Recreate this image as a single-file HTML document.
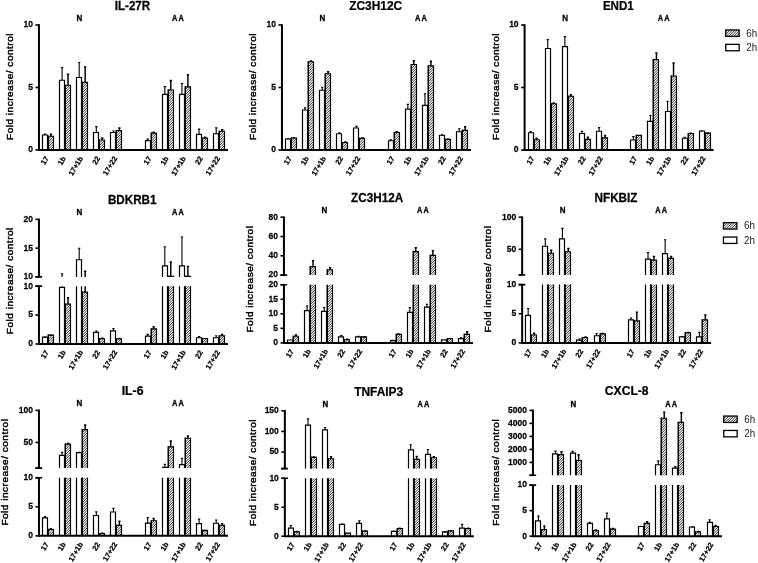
<!DOCTYPE html>
<html><head><meta charset="utf-8"><title>Fold increase charts</title>
<style>
html,body{margin:0;padding:0;background:#fff;}
body{width:758px;height:563px;overflow:hidden;font-family:"Liberation Sans",sans-serif;}
svg{display:block;font-family:"Liberation Sans",sans-serif;will-change:transform;filter:grayscale(1);}
.t{font-weight:bold;font-size:12.1px;fill:#000;stroke:#000;stroke-width:0.25px;}
.n{font-weight:bold;font-size:8.4px;fill:#000;stroke:#000;stroke-width:0.3px;}
.yt{font-weight:bold;font-size:9.8px;fill:#000;stroke:#000;stroke-width:0.25px;}
.xl{font-weight:bold;font-size:7.35px;fill:#000;stroke:#000;stroke-width:0.25px;}
.yl{font-size:9.3px;fill:#000;stroke:#000;stroke-width:0.42px;letter-spacing:0.47px;}
.lg{font-size:10.5px;fill:#222;}
.ax{fill:none;stroke:#000;stroke-width:2;}
.tk{fill:none;stroke:#000;stroke-width:1.6;}
.bw{fill:none;stroke:#000;stroke-width:1.2;}
.bl{fill:none;stroke:#000;stroke-width:1.5;}
.bh{fill:none;stroke:#000;stroke-width:1.15;}
.e{fill:none;stroke:#000;stroke-width:1.1;}
.eh{fill:none;stroke:#000;stroke-width:1.45;}
</style></head><body>
<svg width="758" height="563" viewBox="0 0 758 563">
<defs>
<pattern id="h" width="5" height="5" patternUnits="userSpaceOnUse"><rect width="5" height="5" fill="#f4f4f4"/><path d="M-2.00,-0.5L-0.5,-2.00M0.50,-0.5L-0.5,0.50M3.00,-0.5L-0.5,3.00M5.50,-0.5L-0.5,5.50M8.00,-0.5L-0.5,8.00M10.50,-0.5L-0.5,10.50" stroke="#2a2a2a" stroke-width="0.9"/></pattern>
</defs>
<rect width="758" height="563" fill="#fff"/>
<g>
<text class="yl" transform="translate(13.2,86.5) rotate(-90) scale(1.08,1)" text-anchor="middle">Fold increase/ control</text>
<text class="t" transform="translate(132.45,9.8) scale(0.96,1)" text-anchor="middle">IL-27R</text>
<text class="n" transform="translate(79.4,20.9) scale(0.95,1)" text-anchor="middle">N</text>
<text class="n" transform="translate(178.55,20.9) scale(0.88,1)" text-anchor="middle" style="letter-spacing:1.3px">AA</text>
<rect x="42.5" y="135" width="5" height="15" fill="#fff"/>
<path d="M42.5,150V135H47.5V150" class="bw"/>
<path d="M44.95,135V133.75M43.8,134.15H46.1" class="e"/>
<rect x="48.05" y="136.25" width="5.45" height="13.75" fill="url(#h)"/>
<path d="M48.25,150V135.65" class="bl"/>
<path d="M48.05,136.25H53.5V150" class="bh"/>
<path d="M50.9,136.25V133.75M49.75,134.15H52.05" class="eh"/>
<text class="xl" transform="translate(49,158.3) rotate(-59)" text-anchor="end">17</text>
<rect x="59.5" y="80.25" width="5" height="69.75" fill="#fff"/>
<path d="M59.5,150V80.25H64.5V150" class="bw"/>
<path d="M62.08,80.25V67.25M60.93,67.65H63.23" class="e"/>
<rect x="65.05" y="85.25" width="5.45" height="64.75" fill="url(#h)"/>
<path d="M65.25,150V84.65" class="bl"/>
<path d="M65.05,85.25H70.5V150" class="bh"/>
<path d="M68.03,85.25V73.75M66.88,74.15H69.18" class="eh"/>
<text class="xl" transform="translate(66.13,158.3) rotate(-59)" text-anchor="end">1b</text>
<rect x="76.5" y="77.5" width="5" height="72.5" fill="#fff"/>
<path d="M76.5,150V77.5H81.5V150" class="bw"/>
<path d="M79.2,77.5V62.12M78.05,62.52H80.35" class="e"/>
<rect x="82.05" y="82.38" width="5.45" height="67.62" fill="url(#h)"/>
<path d="M82.25,150V81.78" class="bl"/>
<path d="M82.05,82.38H87.5V150" class="bh"/>
<path d="M85.15,82.38V66.5M84,66.9H86.3" class="eh"/>
<text class="xl" transform="translate(83.25,158.3) rotate(-59)" text-anchor="end">17+1b</text>
<rect x="93.5" y="132.5" width="5" height="17.5" fill="#fff"/>
<path d="M93.5,150V132.5H98.5V150" class="bw"/>
<path d="M96.33,132.5V126.25M95.17,126.65H97.48" class="e"/>
<rect x="99.05" y="140" width="5.45" height="10" fill="url(#h)"/>
<path d="M99.25,150V139.4" class="bl"/>
<path d="M99.05,140H104.5V150" class="bh"/>
<path d="M102.28,140V137.5M101.12,137.9H103.43" class="eh"/>
<text class="xl" transform="translate(100.38,158.3) rotate(-59)" text-anchor="end">22</text>
<rect x="110.5" y="132.5" width="5" height="17.5" fill="#fff"/>
<path d="M110.5,150V132.5H115.5V150" class="bw"/>
<path d="M113.45,132.5V130.62M112.3,131.03H114.6" class="e"/>
<rect x="116.05" y="130.62" width="5.45" height="19.38" fill="url(#h)"/>
<path d="M116.25,150V130.03" class="bl"/>
<path d="M116.05,130.62H121.5V150" class="bh"/>
<path d="M119.4,130.62V127.5M118.25,127.9H120.55" class="eh"/>
<text class="xl" transform="translate(117.5,158.3) rotate(-59)" text-anchor="end">17+22</text>
<rect x="145.5" y="140.62" width="5" height="9.38" fill="#fff"/>
<path d="M145.5,150V140.62H150.5V150" class="bw"/>
<path d="M147.7,140.62V138.75M146.55,139.15H148.85" class="e"/>
<rect x="151.05" y="133.12" width="5.45" height="16.88" fill="url(#h)"/>
<path d="M151.25,150V132.53" class="bl"/>
<path d="M151.05,133.12H156.5V150" class="bh"/>
<path d="M153.65,133.12V131.88M152.5,132.28H154.8" class="eh"/>
<text class="xl" transform="translate(151.75,158.3) rotate(-59)" text-anchor="end">17</text>
<rect x="162.5" y="94.38" width="5" height="55.62" fill="#fff"/>
<path d="M162.5,150V94.38H167.5V150" class="bw"/>
<path d="M164.83,94.38V86.25M163.68,86.65H165.98" class="e"/>
<rect x="168.05" y="90" width="5.45" height="60" fill="url(#h)"/>
<path d="M168.25,150V89.4" class="bl"/>
<path d="M168.05,90H173.5V150" class="bh"/>
<path d="M170.78,90V80M169.62,80.4H171.93" class="eh"/>
<text class="xl" transform="translate(168.88,158.3) rotate(-59)" text-anchor="end">1b</text>
<rect x="179.5" y="94.38" width="5" height="55.62" fill="#fff"/>
<path d="M179.5,150V94.38H184.5V150" class="bw"/>
<path d="M181.95,94.38V83.13M180.8,83.53H183.1" class="e"/>
<rect x="185.05" y="86.88" width="5.45" height="63.12" fill="url(#h)"/>
<path d="M185.25,150V86.28" class="bl"/>
<path d="M185.05,86.88H190.5V150" class="bh"/>
<path d="M187.9,86.88V74.38M186.75,74.78H189.05" class="eh"/>
<text class="xl" transform="translate(186,158.3) rotate(-59)" text-anchor="end">17+1b</text>
<rect x="196.5" y="134.38" width="5" height="15.62" fill="#fff"/>
<path d="M196.5,150V134.38H201.5V150" class="bw"/>
<path d="M199.08,134.38V128.75M197.93,129.15H200.23" class="e"/>
<rect x="202.05" y="138.12" width="5.45" height="11.88" fill="url(#h)"/>
<path d="M202.25,150V137.53" class="bl"/>
<path d="M202.05,138.12H207.5V150" class="bh"/>
<path d="M205.03,138.12V136.88M203.88,137.28H206.18" class="eh"/>
<text class="xl" transform="translate(203.12,158.3) rotate(-59)" text-anchor="end">22</text>
<rect x="213.5" y="133.75" width="5" height="16.25" fill="#fff"/>
<path d="M213.5,150V133.75H218.5V150" class="bw"/>
<path d="M216.2,133.75V127.5M215.05,127.9H217.35" class="e"/>
<rect x="219.05" y="131.25" width="5.45" height="18.75" fill="url(#h)"/>
<path d="M219.25,150V130.65" class="bl"/>
<path d="M219.05,131.25H224.5V150" class="bh"/>
<path d="M222.15,131.25V129.38M221,129.78H223.3" class="eh"/>
<text class="xl" transform="translate(220.25,158.3) rotate(-59)" text-anchor="end">17+22</text>
<path d="M38.15,150H227.95" class="ax"/>
<path d="M38.95,150.8V24.2" class="ax"/>
<path d="M35.45,150H38.95" class="tk"/>
<text class="yt" transform="translate(32.95,152.35) scale(0.87,1)" text-anchor="end">0</text>
<path d="M35.45,87.5H38.95" class="tk"/>
<text class="yt" transform="translate(32.95,89.85) scale(0.87,1)" text-anchor="end">5</text>
<path d="M35.45,25H38.95" class="tk"/>
<text class="yt" transform="translate(32.95,27.35) scale(0.87,1)" text-anchor="end">10</text>
</g>
<g>
<text class="yl" transform="translate(256.3,86.5) rotate(-90) scale(1.08,1)" text-anchor="middle">Fold increase/ control</text>
<text class="t" transform="translate(375.7,9.7) scale(0.984,1)" text-anchor="middle">ZC3H12C</text>
<text class="n" transform="translate(322.4,20.9) scale(0.95,1)" text-anchor="middle">N</text>
<text class="n" transform="translate(421.55,20.9) scale(0.88,1)" text-anchor="middle" style="letter-spacing:1.3px">AA</text>
<rect x="285.5" y="139" width="5" height="11" fill="#fff"/>
<path d="M285.5,150V139H290.5V150" class="bw"/>
<path d="M287.95,139V138.12M286.8,138.53H289.1" class="e"/>
<rect x="291.05" y="138" width="5.45" height="12" fill="url(#h)"/>
<path d="M291.25,150V137.4" class="bl"/>
<path d="M291.05,138H296.5V150" class="bh"/>
<path d="M293.9,138V137.5M292.75,137.9H295.05" class="eh"/>
<text class="xl" transform="translate(292,158.3) rotate(-59)" text-anchor="end">17</text>
<rect x="302.5" y="110" width="5" height="40" fill="#fff"/>
<path d="M302.5,150V110H307.5V150" class="bw"/>
<path d="M305.07,110V107.5M303.93,107.9H306.22" class="e"/>
<rect x="308.05" y="61.75" width="5.45" height="88.25" fill="url(#h)"/>
<path d="M308.25,150V61.15" class="bl"/>
<path d="M308.05,61.75H313.5V150" class="bh"/>
<path d="M311.02,61.75V60.62M309.88,61.02H312.17" class="eh"/>
<text class="xl" transform="translate(309.12,158.3) rotate(-59)" text-anchor="end">1b</text>
<rect x="319.5" y="90.25" width="5" height="59.75" fill="#fff"/>
<path d="M319.5,150V90.25H324.5V150" class="bw"/>
<path d="M322.2,90.25V86.88M321.05,87.28H323.35" class="e"/>
<rect x="325.05" y="73.75" width="5.45" height="76.25" fill="url(#h)"/>
<path d="M325.25,150V73.15" class="bl"/>
<path d="M325.05,73.75H330.5V150" class="bh"/>
<path d="M328.15,73.75V71.25M327,71.65H329.3" class="eh"/>
<text class="xl" transform="translate(326.25,158.3) rotate(-59)" text-anchor="end">17+1b</text>
<rect x="336.5" y="133.75" width="5" height="16.25" fill="#fff"/>
<path d="M336.5,150V133.75H341.5V150" class="bw"/>
<path d="M339.32,133.75V132.5M338.18,132.9H340.47" class="e"/>
<rect x="342.05" y="142.5" width="5.45" height="7.5" fill="url(#h)"/>
<path d="M342.25,150V141.9" class="bl"/>
<path d="M342.05,142.5H347.5V150" class="bh"/>
<path d="M345.27,142.5V141.5M344.12,141.9H346.42" class="eh"/>
<text class="xl" transform="translate(343.37,158.3) rotate(-59)" text-anchor="end">22</text>
<rect x="353.5" y="128" width="5" height="22" fill="#fff"/>
<path d="M353.5,150V128H358.5V150" class="bw"/>
<path d="M356.45,128V126M355.3,126.4H357.6" class="e"/>
<rect x="359.05" y="138.38" width="5.45" height="11.62" fill="url(#h)"/>
<path d="M359.25,150V137.78" class="bl"/>
<path d="M359.05,138.38H364.5V150" class="bh"/>
<path d="M362.4,138.38V137.5M361.25,137.9H363.55" class="eh"/>
<text class="xl" transform="translate(360.5,158.3) rotate(-59)" text-anchor="end">17+22</text>
<rect x="388.5" y="140.75" width="5" height="9.25" fill="#fff"/>
<path d="M388.5,150V140.75H393.5V150" class="bw"/>
<path d="M390.7,140.75V139.38M389.55,139.78H391.85" class="e"/>
<rect x="394.05" y="132.5" width="5.45" height="17.5" fill="url(#h)"/>
<path d="M394.25,150V131.9" class="bl"/>
<path d="M394.05,132.5H399.5V150" class="bh"/>
<path d="M396.65,132.5V131.25M395.5,131.65H397.8" class="eh"/>
<text class="xl" transform="translate(394.75,158.3) rotate(-59)" text-anchor="end">17</text>
<rect x="405.5" y="109.12" width="5" height="40.88" fill="#fff"/>
<path d="M405.5,150V109.12H410.5V150" class="bw"/>
<path d="M407.82,109.12V104M406.68,104.4H408.97" class="e"/>
<rect x="411.05" y="64.5" width="5.45" height="85.5" fill="url(#h)"/>
<path d="M411.25,150V63.9" class="bl"/>
<path d="M411.05,64.5H416.5V150" class="bh"/>
<path d="M413.77,64.5V60.38M412.62,60.77H414.92" class="eh"/>
<text class="xl" transform="translate(411.87,158.3) rotate(-59)" text-anchor="end">1b</text>
<rect x="422.5" y="105.38" width="5" height="44.62" fill="#fff"/>
<path d="M422.5,150V105.38H427.5V150" class="bw"/>
<path d="M424.95,105.38V93.38M423.8,93.78H426.1" class="e"/>
<rect x="428.05" y="65.88" width="5.45" height="84.12" fill="url(#h)"/>
<path d="M428.25,150V65.28" class="bl"/>
<path d="M428.05,65.88H433.5V150" class="bh"/>
<path d="M430.9,65.88V60.75M429.75,61.15H432.05" class="eh"/>
<text class="xl" transform="translate(429,158.3) rotate(-59)" text-anchor="end">17+1b</text>
<rect x="439.5" y="135.25" width="5" height="14.75" fill="#fff"/>
<path d="M439.5,150V135.25H444.5V150" class="bw"/>
<path d="M442.07,135.25V134.5M440.93,134.9H443.22" class="e"/>
<rect x="445.05" y="139.38" width="5.45" height="10.62" fill="url(#h)"/>
<path d="M445.25,150V138.78" class="bl"/>
<path d="M445.05,139.38H450.5V150" class="bh"/>
<path d="M448.02,139.38V138.75M446.88,139.15H449.17" class="eh"/>
<text class="xl" transform="translate(446.12,158.3) rotate(-59)" text-anchor="end">22</text>
<rect x="456.5" y="131.75" width="5" height="18.25" fill="#fff"/>
<path d="M456.5,150V131.75H461.5V150" class="bw"/>
<path d="M459.2,131.75V128.38M458.05,128.78H460.35" class="e"/>
<rect x="462.05" y="130.38" width="5.45" height="19.62" fill="url(#h)"/>
<path d="M462.25,150V129.78" class="bl"/>
<path d="M462.05,130.38H467.5V150" class="bh"/>
<path d="M465.15,130.38V126.25M464,126.65H466.3" class="eh"/>
<text class="xl" transform="translate(463.25,158.3) rotate(-59)" text-anchor="end">17+22</text>
<path d="M281.15,150H470.95" class="ax"/>
<path d="M281.95,150.8V24.2" class="ax"/>
<path d="M278.45,150H281.95" class="tk"/>
<text class="yt" transform="translate(275.95,152.35) scale(0.87,1)" text-anchor="end">0</text>
<path d="M278.45,87.5H281.95" class="tk"/>
<text class="yt" transform="translate(275.95,89.85) scale(0.87,1)" text-anchor="end">5</text>
<path d="M278.45,25H281.95" class="tk"/>
<text class="yt" transform="translate(275.95,27.35) scale(0.87,1)" text-anchor="end">10</text>
</g>
<g>
<text class="yl" transform="translate(498.7,86.5) rotate(-90) scale(1.08,1)" text-anchor="middle">Fold increase/ control</text>
<text class="t" transform="translate(618.3,9.7) scale(0.955,1)" text-anchor="middle">END1</text>
<text class="n" transform="translate(565.05,20.9) scale(0.95,1)" text-anchor="middle">N</text>
<text class="n" transform="translate(664.2,20.9) scale(0.88,1)" text-anchor="middle" style="letter-spacing:1.3px">AA</text>
<rect x="528.5" y="132.75" width="5" height="17.25" fill="#fff"/>
<path d="M528.5,150V132.75H533.5V150" class="bw"/>
<path d="M530.6,132.75V131.25M529.45,131.65H531.75" class="e"/>
<rect x="534.05" y="139.75" width="5.45" height="10.25" fill="url(#h)"/>
<path d="M534.25,150V139.15" class="bl"/>
<path d="M534.05,139.75H539.5V150" class="bh"/>
<path d="M536.55,139.75V137.88M535.4,138.28H537.7" class="eh"/>
<text class="xl" transform="translate(534.65,158.3) rotate(-59)" text-anchor="end">17</text>
<rect x="545.5" y="48.5" width="5" height="101.5" fill="#fff"/>
<path d="M545.5,150V48.5H550.5V150" class="bw"/>
<path d="M547.73,48.5V39.25M546.58,39.65H548.88" class="e"/>
<rect x="551.05" y="103.75" width="5.45" height="46.25" fill="url(#h)"/>
<path d="M551.25,150V103.15" class="bl"/>
<path d="M551.05,103.75H556.5V150" class="bh"/>
<path d="M553.68,103.75V102.5M552.53,102.9H554.83" class="eh"/>
<text class="xl" transform="translate(551.78,158.3) rotate(-59)" text-anchor="end">1b</text>
<rect x="562.5" y="46.62" width="5" height="103.38" fill="#fff"/>
<path d="M562.5,150V46.62H567.5V150" class="bw"/>
<path d="M564.85,46.62V36.25M563.7,36.65H566" class="e"/>
<rect x="568.05" y="96.25" width="5.45" height="53.75" fill="url(#h)"/>
<path d="M568.25,150V95.65" class="bl"/>
<path d="M568.05,96.25H573.5V150" class="bh"/>
<path d="M570.8,96.25V94.25M569.65,94.65H571.95" class="eh"/>
<text class="xl" transform="translate(568.9,158.3) rotate(-59)" text-anchor="end">17+1b</text>
<rect x="579.5" y="133.5" width="5" height="16.5" fill="#fff"/>
<path d="M579.5,150V133.5H584.5V150" class="bw"/>
<path d="M581.98,133.5V131M580.83,131.4H583.12" class="e"/>
<rect x="585.05" y="139.38" width="5.45" height="10.62" fill="url(#h)"/>
<path d="M585.25,150V138.78" class="bl"/>
<path d="M585.05,139.38H590.5V150" class="bh"/>
<path d="M587.93,139.38V136.88M586.78,137.28H589.08" class="eh"/>
<text class="xl" transform="translate(586.03,158.3) rotate(-59)" text-anchor="end">22</text>
<rect x="596.5" y="131.25" width="5" height="18.75" fill="#fff"/>
<path d="M596.5,150V131.25H601.5V150" class="bw"/>
<path d="M599.1,131.25V127.25M597.95,127.65H600.25" class="e"/>
<rect x="602.05" y="137.88" width="5.45" height="12.12" fill="url(#h)"/>
<path d="M602.25,150V137.28" class="bl"/>
<path d="M602.05,137.88H607.5V150" class="bh"/>
<path d="M605.05,137.88V135M603.9,135.4H606.2" class="eh"/>
<text class="xl" transform="translate(603.15,158.3) rotate(-59)" text-anchor="end">17+22</text>
<rect x="630.5" y="140" width="5" height="10" fill="#fff"/>
<path d="M630.5,150V140H635.5V150" class="bw"/>
<path d="M633.35,140V136.25M632.2,136.65H634.5" class="e"/>
<rect x="636.05" y="135.38" width="5.45" height="14.62" fill="url(#h)"/>
<path d="M636.25,150V134.78" class="bl"/>
<path d="M636.05,135.38H641.5V150" class="bh"/>
<text class="xl" transform="translate(637.4,158.3) rotate(-59)" text-anchor="end">17</text>
<rect x="647.5" y="121.38" width="5" height="28.62" fill="#fff"/>
<path d="M647.5,150V121.38H652.5V150" class="bw"/>
<path d="M650.48,121.38V115.12M649.33,115.53H651.62" class="e"/>
<rect x="653.05" y="59.5" width="5.45" height="90.5" fill="url(#h)"/>
<path d="M653.25,150V58.9" class="bl"/>
<path d="M653.05,59.5H658.5V150" class="bh"/>
<path d="M656.43,59.5V52.5M655.28,52.9H657.58" class="eh"/>
<text class="xl" transform="translate(654.53,158.3) rotate(-59)" text-anchor="end">1b</text>
<rect x="665.5" y="111.5" width="5" height="38.5" fill="#fff"/>
<path d="M665.5,150V111.5H670.5V150" class="bw"/>
<path d="M667.6,111.5V100.88M666.45,101.28H668.75" class="e"/>
<rect x="671.05" y="76" width="5.45" height="74" fill="url(#h)"/>
<path d="M671.25,150V75.4" class="bl"/>
<path d="M671.05,76H676.5V150" class="bh"/>
<path d="M673.55,76V62.5M672.4,62.9H674.7" class="eh"/>
<text class="xl" transform="translate(671.65,158.3) rotate(-59)" text-anchor="end">17+1b</text>
<rect x="682.5" y="138.25" width="5" height="11.75" fill="#fff"/>
<path d="M682.5,150V138.25H687.5V150" class="bw"/>
<path d="M684.73,138.25V136.88M683.58,137.28H685.88" class="e"/>
<rect x="688.05" y="133.5" width="5.45" height="16.5" fill="url(#h)"/>
<path d="M688.25,150V132.9" class="bl"/>
<path d="M688.05,133.5H693.5V150" class="bh"/>
<path d="M690.68,133.5V132.75M689.53,133.15H691.83" class="eh"/>
<text class="xl" transform="translate(688.78,158.3) rotate(-59)" text-anchor="end">22</text>
<rect x="699.5" y="131" width="5" height="19" fill="#fff"/>
<path d="M699.5,150V131H704.5V150" class="bw"/>
<path d="M701.85,131V130.62M700.7,131.03H703" class="e"/>
<rect x="705.05" y="133.12" width="5.45" height="16.88" fill="url(#h)"/>
<path d="M705.25,150V132.53" class="bl"/>
<path d="M705.05,133.12H710.5V150" class="bh"/>
<path d="M707.8,133.12V132.5M706.65,132.9H708.95" class="eh"/>
<text class="xl" transform="translate(705.9,158.3) rotate(-59)" text-anchor="end">17+22</text>
<path d="M523.8,150H713.6" class="ax"/>
<path d="M524.6,150.8V24.2" class="ax"/>
<path d="M521.1,150H524.6" class="tk"/>
<text class="yt" transform="translate(518.6,152.35) scale(0.87,1)" text-anchor="end">0</text>
<path d="M521.1,87.5H524.6" class="tk"/>
<text class="yt" transform="translate(518.6,89.85) scale(0.87,1)" text-anchor="end">5</text>
<path d="M521.1,25H524.6" class="tk"/>
<text class="yt" transform="translate(518.6,27.35) scale(0.87,1)" text-anchor="end">10</text>
<rect x="725.75" y="29.95" width="13.4" height="6.4" fill="url(#h)" stroke="#000" stroke-width="1.3"/>
<rect x="725.75" y="44.35" width="13.4" height="6.4" fill="#fff" stroke="#000" stroke-width="1.3"/>
<text class="lg" transform="translate(746.3,36.5) scale(0.93,1)" text-anchor="start">6h</text>
<text class="lg" transform="translate(746.3,50.9) scale(0.93,1)" text-anchor="start">2h</text>
</g>
<g>
<text class="yl" transform="translate(13.1,280.68) rotate(-90) scale(1.08,1)" text-anchor="middle">Fold increase/ control</text>
<text class="t" transform="translate(132.2,203.9) scale(0.966,1)" text-anchor="middle">BDKRB1</text>
<text class="n" transform="translate(79.4,215.3) scale(0.95,1)" text-anchor="middle">N</text>
<text class="n" transform="translate(178.55,215.3) scale(0.88,1)" text-anchor="middle" style="letter-spacing:1.3px">AA</text>
<rect x="42.5" y="337.07" width="5" height="6.88" fill="#fff"/>
<path d="M42.5,343.95V337.07H47.5V343.95" class="bw"/>
<path d="M44.95,337.07V336.72M43.8,337.12H46.1" class="e"/>
<rect x="48.05" y="335.05" width="5.45" height="8.9" fill="url(#h)"/>
<path d="M48.25,343.95V334.45" class="bl"/>
<path d="M48.05,335.05H53.5V343.95" class="bh"/>
<path d="M50.9,335.05V334.7M49.75,335.1H52.05" class="eh"/>
<text class="xl" transform="translate(49,352.25) rotate(-59)" text-anchor="end">17</text>
<rect x="59.5" y="287.31" width="5" height="56.64" fill="#fff"/>
<path d="M59.5,343.95V287.31H64.5V343.95" class="bw"/>
<path d="M62.08,287.31V286.15" class="e"/>
<path d="M62.08,276.9V273.45M60.93,273.85H63.23" class="e"/>
<rect x="65.05" y="304.07" width="5.45" height="39.88" fill="url(#h)"/>
<path d="M65.25,343.95V303.47" class="bl"/>
<path d="M65.05,304.07H70.5V343.95" class="bh"/>
<path d="M68.03,304.07V297.31M66.88,297.71H69.18" class="eh"/>
<text class="xl" transform="translate(66.13,352.25) rotate(-59)" text-anchor="end">1b</text>
<rect x="76.5" y="286.15" width="5" height="57.8" fill="#fff"/>
<path d="M76.5,343.95V286.15M81.5,286.15V343.95" class="bw"/>
<rect x="76.5" y="259.76" width="5" height="17.13" fill="#fff"/>
<path d="M76.5,276.9V259.76H81.5V276.9" class="bw"/>
<path d="M79.2,259.76V247.81M78.05,248.21H80.35" class="e"/>
<rect x="82.05" y="292.16" width="5.45" height="51.79" fill="url(#h)"/>
<path d="M82.25,343.95V291.56" class="bl"/>
<path d="M82.05,292.16H87.5V343.95" class="bh"/>
<path d="M85.15,292.16V286.15" class="eh"/>
<path d="M85.15,276.9V270.75M84,271.15H86.3" class="eh"/>
<text class="xl" transform="translate(83.25,352.25) rotate(-59)" text-anchor="end">17+1b</text>
<rect x="93.5" y="332.39" width="5" height="11.56" fill="#fff"/>
<path d="M93.5,343.95V332.39H98.5V343.95" class="bw"/>
<path d="M96.33,332.39V330.66M95.17,331.06H97.48" class="e"/>
<rect x="99.05" y="338.75" width="5.45" height="5.2" fill="url(#h)"/>
<path d="M99.25,343.95V338.15" class="bl"/>
<path d="M99.05,338.75H104.5V343.95" class="bh"/>
<path d="M102.28,338.75V337.77M101.12,338.17H103.43" class="eh"/>
<text class="xl" transform="translate(100.38,352.25) rotate(-59)" text-anchor="end">22</text>
<rect x="110.5" y="330.94" width="5" height="13" fill="#fff"/>
<path d="M110.5,343.95V330.94H115.5V343.95" class="bw"/>
<path d="M113.45,330.94V328.17M112.3,328.57H114.6" class="e"/>
<rect x="116.05" y="338.75" width="5.45" height="5.2" fill="url(#h)"/>
<path d="M116.25,343.95V338.15" class="bl"/>
<path d="M116.05,338.75H121.5V343.95" class="bh"/>
<path d="M119.4,338.75V338.17M118.25,338.57H120.55" class="eh"/>
<text class="xl" transform="translate(117.5,352.25) rotate(-59)" text-anchor="end">17+22</text>
<rect x="145.5" y="336.09" width="5" height="7.86" fill="#fff"/>
<path d="M145.5,343.95V336.09H150.5V343.95" class="bw"/>
<path d="M147.7,336.09V334.01M146.55,334.41H148.85" class="e"/>
<rect x="151.05" y="328.92" width="5.45" height="15.03" fill="url(#h)"/>
<path d="M151.25,343.95V328.32" class="bl"/>
<path d="M151.05,328.92H156.5V343.95" class="bh"/>
<path d="M153.65,328.92V326.44M152.5,326.84H154.8" class="eh"/>
<text class="xl" transform="translate(151.75,352.25) rotate(-59)" text-anchor="end">17</text>
<rect x="162.5" y="286.15" width="5" height="57.8" fill="#fff"/>
<path d="M162.5,343.95V286.15M167.5,286.15V343.95" class="bw"/>
<rect x="162.5" y="265.97" width="5" height="10.93" fill="#fff"/>
<path d="M162.5,276.9V265.97H167.5V276.9" class="bw"/>
<path d="M164.83,265.97V246.42M163.68,246.82H165.98" class="e"/>
<rect x="168.05" y="286.15" width="5.45" height="57.8" fill="url(#h)"/>
<path d="M168.25,343.95V286.15" class="bl"/>
<path d="M173.5,286.15V343.95" class="bh"/>
<rect x="168.05" y="276.32" width="5.45" height="0.57" fill="url(#h)"/>
<path d="M168.25,276.9V275.72" class="bl"/>
<path d="M168.05,276.32H173.5V276.9" class="bh"/>
<path d="M170.78,276.32V261.66M169.62,262.06H171.93" class="eh"/>
<text class="xl" transform="translate(168.88,352.25) rotate(-59)" text-anchor="end">1b</text>
<rect x="179.5" y="286.15" width="5" height="57.8" fill="#fff"/>
<path d="M179.5,343.95V286.15M184.5,286.15V343.95" class="bw"/>
<rect x="179.5" y="265.97" width="5" height="10.93" fill="#fff"/>
<path d="M179.5,276.9V265.97H184.5V276.9" class="bw"/>
<path d="M181.95,265.97V236.65M180.8,237.05H183.1" class="e"/>
<rect x="185.05" y="286.15" width="5.45" height="57.8" fill="url(#h)"/>
<path d="M185.25,343.95V286.15" class="bl"/>
<path d="M190.5,286.15V343.95" class="bh"/>
<rect x="185.05" y="276.32" width="5.45" height="0.57" fill="url(#h)"/>
<path d="M185.25,276.9V275.72" class="bl"/>
<path d="M185.05,276.32H190.5V276.9" class="bh"/>
<path d="M187.9,276.32V265.97M186.75,266.37H189.05" class="eh"/>
<text class="xl" transform="translate(186,352.25) rotate(-59)" text-anchor="end">17+1b</text>
<rect x="196.5" y="337.77" width="5" height="6.18" fill="#fff"/>
<path d="M196.5,343.95V337.77H201.5V343.95" class="bw"/>
<path d="M199.08,337.77V336.09M197.93,336.49H200.23" class="e"/>
<rect x="202.05" y="338.46" width="5.45" height="5.49" fill="url(#h)"/>
<path d="M202.25,343.95V337.86" class="bl"/>
<path d="M202.05,338.46H207.5V343.95" class="bh"/>
<text class="xl" transform="translate(203.12,352.25) rotate(-59)" text-anchor="end">22</text>
<rect x="213.5" y="337.77" width="5" height="6.18" fill="#fff"/>
<path d="M213.5,343.95V337.77H218.5V343.95" class="bw"/>
<path d="M216.2,337.77V335.4M215.05,335.8H217.35" class="e"/>
<rect x="219.05" y="335.74" width="5.45" height="8.21" fill="url(#h)"/>
<path d="M219.25,343.95V335.14" class="bl"/>
<path d="M219.05,335.74H224.5V343.95" class="bh"/>
<path d="M222.15,335.74V334.01M221,334.41H223.3" class="eh"/>
<text class="xl" transform="translate(220.25,352.25) rotate(-59)" text-anchor="end">17+22</text>
<path d="M38.15,343.95H227.95" class="ax"/>
<path d="M38.95,344.75V286.15" class="ax"/>
<path d="M38.95,276.9V218.6" class="ax"/>
<path d="M35.45,286.15H42.15M35.45,276.9H42.15" class="tk"/>
<path d="M35.45,343.95H38.95" class="tk"/>
<text class="yt" transform="translate(32.95,346.3) scale(0.87,1)" text-anchor="end">0</text>
<path d="M35.45,315.05H38.95" class="tk"/>
<text class="yt" transform="translate(32.95,317.4) scale(0.87,1)" text-anchor="end">5</text>
<path d="M35.45,286.15H38.95" class="tk"/>
<text class="yt" transform="translate(32.95,288.5) scale(0.87,1)" text-anchor="end">10</text>
<path d="M35.45,276.9H38.95" class="tk"/>
<text class="yt" transform="translate(32.95,279.25) scale(0.87,1)" text-anchor="end">10</text>
<path d="M35.45,248.15H38.95" class="tk"/>
<text class="yt" transform="translate(32.95,250.5) scale(0.87,1)" text-anchor="end">15</text>
<path d="M35.45,219.4H38.95" class="tk"/>
<text class="yt" transform="translate(32.95,221.75) scale(0.87,1)" text-anchor="end">20</text>
</g>
<g>
<text class="yl" transform="translate(253.1,279.05) rotate(-90) scale(1.08,1)" text-anchor="middle">Fold increase/ control</text>
<text class="t" transform="translate(377.1,201.9) scale(0.968,1)" text-anchor="middle">ZC3H12A</text>
<text class="n" transform="translate(324.4,213.3) scale(0.95,1)" text-anchor="middle">N</text>
<text class="n" transform="translate(423.55,213.3) scale(0.88,1)" text-anchor="middle" style="letter-spacing:1.3px">AA</text>
<rect x="287.5" y="339.99" width="5" height="2.91" fill="#fff"/>
<path d="M287.5,342.9V339.99H292.5V342.9" class="bw"/>
<rect x="293.05" y="336.29" width="5.45" height="6.61" fill="url(#h)"/>
<path d="M293.25,342.9V335.69" class="bl"/>
<path d="M293.05,336.29H298.5V342.9" class="bh"/>
<path d="M295.9,336.29V334.58M294.75,334.98H297.05" class="eh"/>
<text class="xl" transform="translate(294,351.2) rotate(-59)" text-anchor="end">17</text>
<rect x="304.5" y="310.6" width="5" height="32.3" fill="#fff"/>
<path d="M304.5,342.9V310.6H309.5V342.9" class="bw"/>
<path d="M307.07,310.6V305.36M305.93,305.76H308.22" class="e"/>
<rect x="310.05" y="284.7" width="5.45" height="58.2" fill="url(#h)"/>
<path d="M310.25,342.9V284.7" class="bl"/>
<path d="M315.5,284.7V342.9" class="bh"/>
<rect x="310.05" y="266.66" width="5.45" height="8.44" fill="url(#h)"/>
<path d="M310.25,275.1V266.06" class="bl"/>
<path d="M310.05,266.66H315.5V275.1" class="bh"/>
<path d="M313.02,266.66V260.43M311.88,260.83H314.17" class="eh"/>
<text class="xl" transform="translate(311.12,351.2) rotate(-59)" text-anchor="end">1b</text>
<rect x="321.5" y="311.47" width="5" height="31.43" fill="#fff"/>
<path d="M321.5,342.9V311.47H326.5V342.9" class="bw"/>
<path d="M324.2,311.47V307.11M323.05,307.51H325.35" class="e"/>
<rect x="327.05" y="284.7" width="5.45" height="58.2" fill="url(#h)"/>
<path d="M327.25,342.9V284.7" class="bl"/>
<path d="M332.5,284.7V342.9" class="bh"/>
<rect x="327.05" y="269.74" width="5.45" height="5.36" fill="url(#h)"/>
<path d="M327.25,275.1V269.14" class="bl"/>
<path d="M327.05,269.74H332.5V275.1" class="bh"/>
<path d="M330.15,269.74V267.38M329,267.78H331.3" class="eh"/>
<text class="xl" transform="translate(328.25,351.2) rotate(-59)" text-anchor="end">17+1b</text>
<rect x="338.5" y="336.88" width="5" height="6.02" fill="#fff"/>
<path d="M338.5,342.9V336.88H343.5V342.9" class="bw"/>
<path d="M341.32,336.88V335.04M340.18,335.44H342.47" class="e"/>
<rect x="344.05" y="339.79" width="5.45" height="3.11" fill="url(#h)"/>
<path d="M344.25,342.9V339.19" class="bl"/>
<path d="M344.05,339.79H349.5V342.9" class="bh"/>
<path d="M347.27,339.79V338.91M346.12,339.31H348.42" class="eh"/>
<text class="xl" transform="translate(345.37,351.2) rotate(-59)" text-anchor="end">22</text>
<rect x="355.5" y="336.88" width="5" height="6.02" fill="#fff"/>
<path d="M355.5,342.9V336.88H360.5V342.9" class="bw"/>
<path d="M358.45,336.88V335.8M357.3,336.2H359.6" class="e"/>
<rect x="361.05" y="336.88" width="5.45" height="6.02" fill="url(#h)"/>
<path d="M361.25,342.9V336.28" class="bl"/>
<path d="M361.05,336.88H366.5V342.9" class="bh"/>
<path d="M364.4,336.88V336.5M363.25,336.9H365.55" class="eh"/>
<text class="xl" transform="translate(362.5,351.2) rotate(-59)" text-anchor="end">17+22</text>
<rect x="390.5" y="340.57" width="5" height="2.33" fill="#fff"/>
<path d="M390.5,342.9V340.57H395.5V342.9" class="bw"/>
<path d="M392.7,340.57V339.99M391.55,340.39H393.85" class="e"/>
<rect x="396.05" y="334.32" width="5.45" height="8.58" fill="url(#h)"/>
<path d="M396.25,342.9V333.72" class="bl"/>
<path d="M396.05,334.32H401.5V342.9" class="bh"/>
<path d="M398.65,334.32V333.59M397.5,333.99H399.8" class="eh"/>
<text class="xl" transform="translate(396.75,351.2) rotate(-59)" text-anchor="end">17</text>
<rect x="407.5" y="312.34" width="5" height="30.56" fill="#fff"/>
<path d="M407.5,342.9V312.34H412.5V342.9" class="bw"/>
<path d="M409.82,312.34V307.11M408.68,307.51H410.97" class="e"/>
<rect x="413.05" y="284.7" width="5.45" height="58.2" fill="url(#h)"/>
<path d="M413.25,342.9V284.7" class="bl"/>
<path d="M418.5,284.7V342.9" class="bh"/>
<rect x="413.05" y="251.55" width="5.45" height="23.55" fill="url(#h)"/>
<path d="M413.25,275.1V250.95" class="bl"/>
<path d="M413.05,251.55H418.5V275.1" class="bh"/>
<path d="M415.77,251.55V247.4M414.62,247.8H416.92" class="eh"/>
<text class="xl" transform="translate(413.87,351.2) rotate(-59)" text-anchor="end">1b</text>
<rect x="424.5" y="307.11" width="5" height="35.79" fill="#fff"/>
<path d="M424.5,342.9V307.11H429.5V342.9" class="bw"/>
<path d="M426.95,307.11V303.91M425.8,304.31H428.1" class="e"/>
<rect x="430.05" y="284.7" width="5.45" height="58.2" fill="url(#h)"/>
<path d="M430.25,342.9V284.7" class="bl"/>
<path d="M435.5,284.7V342.9" class="bh"/>
<rect x="430.05" y="255.32" width="5.45" height="19.78" fill="url(#h)"/>
<path d="M430.25,275.1V254.72" class="bl"/>
<path d="M430.05,255.32H435.5V275.1" class="bh"/>
<path d="M432.9,255.32V250.2M431.75,250.6H434.05" class="eh"/>
<text class="xl" transform="translate(431,351.2) rotate(-59)" text-anchor="end">17+1b</text>
<rect x="441.5" y="339.84" width="5" height="3.06" fill="#fff"/>
<path d="M441.5,342.9V339.84H446.5V342.9" class="bw"/>
<rect x="447.05" y="338.68" width="5.45" height="4.22" fill="url(#h)"/>
<path d="M447.25,342.9V338.08" class="bl"/>
<path d="M447.05,338.68H452.5V342.9" class="bh"/>
<text class="xl" transform="translate(448.12,351.2) rotate(-59)" text-anchor="end">22</text>
<rect x="458.5" y="338.68" width="5" height="4.22" fill="#fff"/>
<path d="M458.5,342.9V338.68H463.5V342.9" class="bw"/>
<path d="M461.2,338.68V337.37M460.05,337.77H462.35" class="e"/>
<rect x="464.05" y="334.32" width="5.45" height="8.58" fill="url(#h)"/>
<path d="M464.25,342.9V333.72" class="bl"/>
<path d="M464.05,334.32H469.5V342.9" class="bh"/>
<path d="M467.15,334.32V331.41M466,331.81H468.3" class="eh"/>
<text class="xl" transform="translate(465.25,351.2) rotate(-59)" text-anchor="end">17+22</text>
<path d="M283.15,342.9H472.95" class="ax"/>
<path d="M283.95,343.7V284.7" class="ax"/>
<path d="M283.95,275.1V216.4" class="ax"/>
<path d="M280.45,284.7H287.15M280.45,275.1H287.15" class="tk"/>
<path d="M280.45,342.9H283.95" class="tk"/>
<text class="yt" transform="translate(277.95,345.25) scale(0.87,1)" text-anchor="end">0</text>
<path d="M280.45,328.35H283.95" class="tk"/>
<text class="yt" transform="translate(277.95,330.7) scale(0.87,1)" text-anchor="end">5</text>
<path d="M280.45,313.8H283.95" class="tk"/>
<text class="yt" transform="translate(277.95,316.15) scale(0.87,1)" text-anchor="end">10</text>
<path d="M280.45,299.25H283.95" class="tk"/>
<text class="yt" transform="translate(277.95,301.6) scale(0.87,1)" text-anchor="end">15</text>
<path d="M280.45,284.7H283.95" class="tk"/>
<text class="yt" transform="translate(277.95,287.05) scale(0.87,1)" text-anchor="end">20</text>
<path d="M280.45,275.1H283.95" class="tk"/>
<text class="yt" transform="translate(277.95,277.45) scale(0.87,1)" text-anchor="end">20</text>
<path d="M280.45,255.8H283.95" class="tk"/>
<text class="yt" transform="translate(277.95,258.15) scale(0.87,1)" text-anchor="end">40</text>
<path d="M280.45,236.5H283.95" class="tk"/>
<text class="yt" transform="translate(277.95,238.85) scale(0.87,1)" text-anchor="end">60</text>
<path d="M280.45,217.2H283.95" class="tk"/>
<text class="yt" transform="translate(277.95,219.55) scale(0.87,1)" text-anchor="end">80</text>
</g>
<g>
<text class="yl" transform="translate(491.1,279.05) rotate(-90) scale(1.08,1)" text-anchor="middle">Fold increase/ control</text>
<text class="t" transform="translate(616,201.9) scale(0.966,1)" text-anchor="middle">NFKBIZ</text>
<text class="n" transform="translate(562.6,213.3) scale(0.95,1)" text-anchor="middle">N</text>
<text class="n" transform="translate(661.75,213.3) scale(0.88,1)" text-anchor="middle" style="letter-spacing:1.3px">AA</text>
<rect x="525.5" y="315.38" width="5" height="27.52" fill="#fff"/>
<path d="M525.5,342.9V315.38H530.5V342.9" class="bw"/>
<path d="M528.15,315.38V308.04M527,308.44H529.3" class="e"/>
<rect x="531.05" y="334.97" width="5.45" height="7.93" fill="url(#h)"/>
<path d="M531.25,342.9V334.37" class="bl"/>
<path d="M531.05,334.97H536.5V342.9" class="bh"/>
<path d="M534.1,334.97V332.76M532.95,333.16H535.25" class="eh"/>
<text class="xl" transform="translate(532.2,351.2) rotate(-59)" text-anchor="end">17</text>
<rect x="542.5" y="284.6" width="5" height="58.3" fill="#fff"/>
<path d="M542.5,342.9V284.6M547.5,284.6V342.9" class="bw"/>
<rect x="542.5" y="246.23" width="5" height="28.77" fill="#fff"/>
<path d="M542.5,275V246.23H547.5V275" class="bw"/>
<path d="M545.27,246.23V238.52M544.12,238.92H546.42" class="e"/>
<rect x="548.05" y="284.6" width="5.45" height="58.3" fill="url(#h)"/>
<path d="M548.25,342.9V284.6" class="bl"/>
<path d="M553.5,284.6V342.9" class="bh"/>
<rect x="548.05" y="253.23" width="5.45" height="21.77" fill="url(#h)"/>
<path d="M548.25,275V252.63" class="bl"/>
<path d="M548.05,253.23H553.5V275" class="bh"/>
<path d="M551.23,253.23V249.89M550.08,250.29H552.38" class="eh"/>
<text class="xl" transform="translate(549.33,351.2) rotate(-59)" text-anchor="end">1b</text>
<rect x="559.5" y="284.6" width="5" height="58.3" fill="#fff"/>
<path d="M559.5,342.9V284.6M564.5,284.6V342.9" class="bw"/>
<rect x="559.5" y="238.91" width="5" height="36.09" fill="#fff"/>
<path d="M559.5,275V238.91H564.5V275" class="bw"/>
<path d="M562.4,238.91V227.93M561.25,228.33H563.55" class="e"/>
<rect x="565.05" y="284.6" width="5.45" height="58.3" fill="url(#h)"/>
<path d="M565.25,342.9V284.6" class="bl"/>
<path d="M570.5,284.6V342.9" class="bh"/>
<rect x="565.05" y="251.75" width="5.45" height="23.25" fill="url(#h)"/>
<path d="M565.25,275V251.15" class="bl"/>
<path d="M565.05,251.75H570.5V275" class="bh"/>
<path d="M568.35,251.75V248.09M567.2,248.49H569.5" class="eh"/>
<text class="xl" transform="translate(566.45,351.2) rotate(-59)" text-anchor="end">17+1b</text>
<rect x="576.5" y="340.16" width="5" height="2.74" fill="#fff"/>
<path d="M576.5,342.9V340.16H581.5V342.9" class="bw"/>
<path d="M579.52,340.16V338.64M578.38,339.04H580.67" class="e"/>
<rect x="582.05" y="337.54" width="5.45" height="5.36" fill="url(#h)"/>
<path d="M582.25,342.9V336.94" class="bl"/>
<path d="M582.05,337.54H587.5V342.9" class="bh"/>
<path d="M585.48,337.54V336.49M584.33,336.89H586.62" class="eh"/>
<text class="xl" transform="translate(583.58,351.2) rotate(-59)" text-anchor="end">22</text>
<rect x="594.5" y="335.73" width="5" height="7.17" fill="#fff"/>
<path d="M594.5,342.9V335.73H599.5V342.9" class="bw"/>
<path d="M596.65,335.73V333.11M595.5,333.51H597.8" class="e"/>
<rect x="600.05" y="333.86" width="5.45" height="9.04" fill="url(#h)"/>
<path d="M600.25,342.9V333.26" class="bl"/>
<path d="M600.05,333.86H605.5V342.9" class="bh"/>
<path d="M602.6,333.86V333.11M601.45,333.51H603.75" class="eh"/>
<text class="xl" transform="translate(600.7,351.2) rotate(-59)" text-anchor="end">17+22</text>
<rect x="628.5" y="319.81" width="5" height="23.09" fill="#fff"/>
<path d="M628.5,342.9V319.81H633.5V342.9" class="bw"/>
<path d="M630.9,319.81V317.6M629.75,318H632.05" class="e"/>
<rect x="634.05" y="320.92" width="5.45" height="21.98" fill="url(#h)"/>
<path d="M634.25,342.9V320.32" class="bl"/>
<path d="M634.05,320.92H639.5V342.9" class="bh"/>
<path d="M636.85,320.92V311.71M635.7,312.11H638" class="eh"/>
<text class="xl" transform="translate(634.95,351.2) rotate(-59)" text-anchor="end">17</text>
<rect x="645.5" y="284.6" width="5" height="58.3" fill="#fff"/>
<path d="M645.5,342.9V284.6M650.5,284.6V342.9" class="bw"/>
<rect x="645.5" y="259.07" width="5" height="15.93" fill="#fff"/>
<path d="M645.5,275V259.07H650.5V275" class="bw"/>
<path d="M648.02,259.07V252.14M646.88,252.54H649.17" class="e"/>
<rect x="651.05" y="284.6" width="5.45" height="58.3" fill="url(#h)"/>
<path d="M651.25,342.9V284.6" class="bl"/>
<path d="M656.5,284.6V342.9" class="bh"/>
<rect x="651.05" y="260.16" width="5.45" height="14.84" fill="url(#h)"/>
<path d="M651.25,275V259.56" class="bl"/>
<path d="M651.05,260.16H656.5V275" class="bh"/>
<path d="M653.98,260.16V256.12M652.83,256.52H655.12" class="eh"/>
<text class="xl" transform="translate(652.08,351.2) rotate(-59)" text-anchor="end">1b</text>
<rect x="662.5" y="284.6" width="5" height="58.3" fill="#fff"/>
<path d="M662.5,342.9V284.6M667.5,284.6V342.9" class="bw"/>
<rect x="662.5" y="253.55" width="5" height="21.45" fill="#fff"/>
<path d="M662.5,275V253.55H667.5V275" class="bw"/>
<path d="M665.15,253.55V239.29M664,239.69H666.3" class="e"/>
<rect x="668.05" y="284.6" width="5.45" height="58.3" fill="url(#h)"/>
<path d="M668.25,342.9V284.6" class="bl"/>
<path d="M673.5,284.6V342.9" class="bh"/>
<rect x="668.05" y="258.37" width="5.45" height="16.63" fill="url(#h)"/>
<path d="M668.25,275V257.77" class="bl"/>
<path d="M668.05,258.37H673.5V275" class="bh"/>
<path d="M671.1,258.37V256.12M669.95,256.52H672.25" class="eh"/>
<text class="xl" transform="translate(669.2,351.2) rotate(-59)" text-anchor="end">17+1b</text>
<rect x="679.5" y="336.84" width="5" height="6.06" fill="#fff"/>
<path d="M679.5,342.9V336.84H684.5V342.9" class="bw"/>
<path d="M682.27,336.84V336.08M681.12,336.48H683.42" class="e"/>
<rect x="685.05" y="332.76" width="5.45" height="10.14" fill="url(#h)"/>
<path d="M685.25,342.9V332.16" class="bl"/>
<path d="M685.05,332.76H690.5V342.9" class="bh"/>
<path d="M688.23,332.76V332M687.08,332.4H689.38" class="eh"/>
<text class="xl" transform="translate(686.33,351.2) rotate(-59)" text-anchor="end">22</text>
<rect x="696.5" y="336.84" width="5" height="6.06" fill="#fff"/>
<path d="M696.5,342.9V336.84H701.5V342.9" class="bw"/>
<path d="M699.4,336.84V332M698.25,332.4H700.55" class="e"/>
<rect x="702.05" y="319.81" width="5.45" height="23.09" fill="url(#h)"/>
<path d="M702.25,342.9V319.21" class="bl"/>
<path d="M702.05,319.81H707.5V342.9" class="bh"/>
<path d="M705.35,319.81V314.68M704.2,315.08H706.5" class="eh"/>
<text class="xl" transform="translate(703.45,351.2) rotate(-59)" text-anchor="end">17+22</text>
<path d="M521.35,342.9H711.15" class="ax"/>
<path d="M522.15,343.7V284.6" class="ax"/>
<path d="M522.15,275V216.4" class="ax"/>
<path d="M518.65,284.6H525.35M518.65,275H525.35" class="tk"/>
<path d="M518.65,342.9H522.15" class="tk"/>
<text class="yt" transform="translate(516.15,345.25) scale(0.87,1)" text-anchor="end">0</text>
<path d="M518.65,313.75H522.15" class="tk"/>
<text class="yt" transform="translate(516.15,316.1) scale(0.87,1)" text-anchor="end">5</text>
<path d="M518.65,284.6H522.15" class="tk"/>
<text class="yt" transform="translate(516.15,286.95) scale(0.87,1)" text-anchor="end">10</text>
<path d="M518.65,275H522.15" class="tk"/>
<path d="M518.65,249.31H522.15" class="tk"/>
<text class="yt" transform="translate(516.15,251.66) scale(0.87,1)" text-anchor="end">50</text>
<path d="M518.65,217.2H522.15" class="tk"/>
<text class="yt" transform="translate(516.15,219.55) scale(0.87,1)" text-anchor="end">100</text>
<rect x="723.45" y="222.65" width="13.4" height="6.4" fill="url(#h)" stroke="#000" stroke-width="1.3"/>
<rect x="723.45" y="237.05" width="13.4" height="6.4" fill="#fff" stroke="#000" stroke-width="1.3"/>
<text class="lg" transform="translate(744,229.2) scale(0.93,1)" text-anchor="start">6h</text>
<text class="lg" transform="translate(744,243.6) scale(0.93,1)" text-anchor="start">2h</text>
</g>
<g>
<text class="yl" transform="translate(7.8,472.12) rotate(-90) scale(1.08,1)" text-anchor="middle">Fold increase/ control</text>
<text class="t" transform="translate(132.6,394.8) scale(1.017,1)" text-anchor="middle">IL-6</text>
<text class="n" transform="translate(79.4,406.3) scale(0.95,1)" text-anchor="middle">N</text>
<text class="n" transform="translate(178.55,406.3) scale(0.88,1)" text-anchor="middle" style="letter-spacing:1.3px">AA</text>
<rect x="42.5" y="517.82" width="5" height="18.03" fill="#fff"/>
<path d="M42.5,535.85V517.82H47.5V535.85" class="bw"/>
<path d="M44.95,517.82V516.08M43.8,516.48H46.1" class="e"/>
<rect x="48.05" y="529.45" width="5.45" height="6.4" fill="url(#h)"/>
<path d="M48.25,535.85V528.85" class="bl"/>
<path d="M48.05,529.45H53.5V535.85" class="bh"/>
<path d="M50.9,529.45V528.29M49.75,528.69H52.05" class="eh"/>
<text class="xl" transform="translate(49,544.15) rotate(-59)" text-anchor="end">17</text>
<rect x="59.5" y="477.7" width="5" height="58.15" fill="#fff"/>
<path d="M59.5,535.85V477.7M64.5,477.7V535.85" class="bw"/>
<rect x="59.5" y="455.41" width="5" height="12.69" fill="#fff"/>
<path d="M59.5,468.1V455.41H64.5V468.1" class="bw"/>
<path d="M62.08,455.41V451.94M60.93,452.34H63.23" class="e"/>
<rect x="65.05" y="477.7" width="5.45" height="58.15" fill="url(#h)"/>
<path d="M65.25,535.85V477.7" class="bl"/>
<path d="M70.5,477.7V535.85" class="bh"/>
<rect x="65.05" y="444.06" width="5.45" height="24.04" fill="url(#h)"/>
<path d="M65.25,468.1V443.46" class="bl"/>
<path d="M65.05,444.06H70.5V468.1" class="bh"/>
<path d="M68.03,444.06V443.1M66.88,443.5H69.18" class="eh"/>
<text class="xl" transform="translate(66.13,544.15) rotate(-59)" text-anchor="end">1b</text>
<rect x="76.5" y="477.7" width="5" height="58.15" fill="#fff"/>
<path d="M76.5,535.85V477.7M81.5,477.7V535.85" class="bw"/>
<rect x="76.5" y="452.65" width="5" height="15.45" fill="#fff"/>
<path d="M76.5,468.1V452.65H81.5V468.1" class="bw"/>
<path d="M79.2,452.65V451.94M78.05,452.34H80.35" class="e"/>
<rect x="82.05" y="477.7" width="5.45" height="58.15" fill="url(#h)"/>
<path d="M82.25,535.85V477.7" class="bl"/>
<path d="M87.5,477.7V535.85" class="bh"/>
<rect x="82.05" y="429.63" width="5.45" height="38.47" fill="url(#h)"/>
<path d="M82.25,468.1V429.03" class="bl"/>
<path d="M82.05,429.63H87.5V468.1" class="bh"/>
<path d="M85.15,429.63V424.5M84,424.9H86.3" class="eh"/>
<text class="xl" transform="translate(83.25,544.15) rotate(-59)" text-anchor="end">17+1b</text>
<rect x="93.5" y="515.5" width="5" height="20.35" fill="#fff"/>
<path d="M93.5,535.85V515.5H98.5V535.85" class="bw"/>
<path d="M96.33,515.5V511.43M95.17,511.83H97.48" class="e"/>
<rect x="99.05" y="533.52" width="5.45" height="2.33" fill="url(#h)"/>
<path d="M99.25,535.85V532.92" class="bl"/>
<path d="M99.05,533.52H104.5V535.85" class="bh"/>
<path d="M102.28,533.52V532.94M101.12,533.34H103.43" class="eh"/>
<text class="xl" transform="translate(100.38,544.15) rotate(-59)" text-anchor="end">22</text>
<rect x="110.5" y="512.01" width="5" height="23.84" fill="#fff"/>
<path d="M110.5,535.85V512.01H115.5V535.85" class="bw"/>
<path d="M113.45,512.01V507.94M112.3,508.34H114.6" class="e"/>
<rect x="116.05" y="525.38" width="5.45" height="10.47" fill="url(#h)"/>
<path d="M116.25,535.85V524.78" class="bl"/>
<path d="M116.05,525.38H121.5V535.85" class="bh"/>
<path d="M119.4,525.38V520.73M118.25,521.13H120.55" class="eh"/>
<text class="xl" transform="translate(117.5,544.15) rotate(-59)" text-anchor="end">17+22</text>
<rect x="145.5" y="523.06" width="5" height="12.79" fill="#fff"/>
<path d="M145.5,535.85V523.06H150.5V535.85" class="bw"/>
<path d="M147.7,523.06V517.24M146.55,517.64H148.85" class="e"/>
<rect x="151.05" y="520.73" width="5.45" height="15.12" fill="url(#h)"/>
<path d="M151.25,535.85V520.13" class="bl"/>
<path d="M151.05,520.73H156.5V535.85" class="bh"/>
<path d="M153.65,520.73V518.06M152.5,518.46H154.8" class="eh"/>
<text class="xl" transform="translate(151.75,544.15) rotate(-59)" text-anchor="end">17</text>
<rect x="162.5" y="477.7" width="5" height="58.15" fill="#fff"/>
<path d="M162.5,535.85V477.7M167.5,477.7V535.85" class="bw"/>
<rect x="162.5" y="467.46" width="5" height="0.64" fill="#fff"/>
<path d="M162.5,468.1V467.46H167.5V468.1" class="bw"/>
<path d="M164.83,467.46V464M163.68,464.4H165.98" class="e"/>
<rect x="168.05" y="477.7" width="5.45" height="58.15" fill="url(#h)"/>
<path d="M168.25,535.85V477.7" class="bl"/>
<path d="M173.5,477.7V535.85" class="bh"/>
<rect x="168.05" y="446.82" width="5.45" height="21.28" fill="url(#h)"/>
<path d="M168.25,468.1V446.22" class="bl"/>
<path d="M168.05,446.82H173.5V468.1" class="bh"/>
<path d="M170.78,446.82V440.6M169.62,441H171.93" class="eh"/>
<text class="xl" transform="translate(168.88,544.15) rotate(-59)" text-anchor="end">1b</text>
<rect x="179.5" y="477.7" width="5" height="58.15" fill="#fff"/>
<path d="M179.5,535.85V477.7M184.5,477.7V535.85" class="bw"/>
<rect x="179.5" y="464.64" width="5" height="3.46" fill="#fff"/>
<path d="M179.5,468.1V464.64H184.5V468.1" class="bw"/>
<path d="M181.95,464.64V457.84M180.8,458.24H183.1" class="e"/>
<rect x="185.05" y="477.7" width="5.45" height="58.15" fill="url(#h)"/>
<path d="M185.25,535.85V477.7" class="bl"/>
<path d="M190.5,477.7V535.85" class="bh"/>
<rect x="185.05" y="438.22" width="5.45" height="29.88" fill="url(#h)"/>
<path d="M185.25,468.1V437.62" class="bl"/>
<path d="M185.05,438.22H190.5V468.1" class="bh"/>
<path d="M187.9,438.22V435.47M186.75,435.87H189.05" class="eh"/>
<text class="xl" transform="translate(186,544.15) rotate(-59)" text-anchor="end">17+1b</text>
<rect x="196.5" y="523.64" width="5" height="12.21" fill="#fff"/>
<path d="M196.5,535.85V523.64H201.5V535.85" class="bw"/>
<path d="M199.08,523.64V518.75M197.93,519.15H200.23" class="e"/>
<rect x="202.05" y="530.44" width="5.45" height="5.41" fill="url(#h)"/>
<path d="M202.25,535.85V529.84" class="bl"/>
<path d="M202.05,530.44H207.5V535.85" class="bh"/>
<path d="M205.03,530.44V530.03M203.88,530.43H206.18" class="eh"/>
<text class="xl" transform="translate(203.12,544.15) rotate(-59)" text-anchor="end">22</text>
<rect x="213.5" y="523.23" width="5" height="12.62" fill="#fff"/>
<path d="M213.5,535.85V523.23H218.5V535.85" class="bw"/>
<path d="M216.2,523.23V519.57M215.05,519.97H217.35" class="e"/>
<rect x="219.05" y="525.38" width="5.45" height="10.47" fill="url(#h)"/>
<path d="M219.25,535.85V524.78" class="bl"/>
<path d="M219.05,525.38H224.5V535.85" class="bh"/>
<path d="M222.15,525.38V523.23M221,523.63H223.3" class="eh"/>
<text class="xl" transform="translate(220.25,544.15) rotate(-59)" text-anchor="end">17+22</text>
<path d="M38.15,535.85H227.95" class="ax"/>
<path d="M38.95,536.65V477.7" class="ax"/>
<path d="M38.95,468.1V409.6" class="ax"/>
<path d="M35.45,477.7H42.15M35.45,468.1H42.15" class="tk"/>
<path d="M35.45,535.85H38.95" class="tk"/>
<text class="yt" transform="translate(32.95,538.2) scale(0.87,1)" text-anchor="end">0</text>
<path d="M35.45,506.77H38.95" class="tk"/>
<text class="yt" transform="translate(32.95,509.12) scale(0.87,1)" text-anchor="end">5</text>
<path d="M35.45,477.7H38.95" class="tk"/>
<text class="yt" transform="translate(32.95,480.05) scale(0.87,1)" text-anchor="end">10</text>
<path d="M35.45,468.1H38.95" class="tk"/>
<path d="M35.45,442.46H38.95" class="tk"/>
<text class="yt" transform="translate(32.95,444.81) scale(0.87,1)" text-anchor="end">50</text>
<path d="M35.45,410.4H38.95" class="tk"/>
<text class="yt" transform="translate(32.95,412.75) scale(0.87,1)" text-anchor="end">100</text>
</g>
<g>
<text class="yl" transform="translate(256.2,472.5) rotate(-90) scale(1.08,1)" text-anchor="middle">Fold increase/ control</text>
<text class="t" transform="translate(378.7,395.6) scale(0.984,1)" text-anchor="middle">TNFAIP3</text>
<text class="n" transform="translate(325.3,407.1) scale(0.95,1)" text-anchor="middle">N</text>
<text class="n" transform="translate(424.05,407.1) scale(0.88,1)" text-anchor="middle" style="letter-spacing:1.3px">AA</text>
<rect x="288.5" y="528.09" width="5" height="8.11" fill="#fff"/>
<path d="M288.5,536.2V528.09H293.5V536.2" class="bw"/>
<path d="M290.85,528.09V525.08M289.7,525.48H292" class="e"/>
<rect x="294.05" y="531.86" width="5.45" height="4.34" fill="url(#h)"/>
<path d="M294.25,536.2V531.26" class="bl"/>
<path d="M294.05,531.86H299.5V536.2" class="bh"/>
<path d="M296.8,531.86V531.16M295.65,531.56H297.95" class="eh"/>
<text class="xl" transform="translate(294.9,544.5) rotate(-59)" text-anchor="end">17</text>
<rect x="305.5" y="478.3" width="5" height="57.9" fill="#fff"/>
<path d="M305.5,536.2V478.3M310.5,478.3V536.2" class="bw"/>
<rect x="305.5" y="425.08" width="5" height="43.52" fill="#fff"/>
<path d="M305.5,468.6V425.08H310.5V468.6" class="bw"/>
<path d="M307.98,425.08V418.48M306.83,418.88H309.12" class="e"/>
<rect x="311.05" y="478.3" width="5.45" height="57.9" fill="url(#h)"/>
<path d="M311.25,536.2V478.3" class="bl"/>
<path d="M316.5,478.3V536.2" class="bh"/>
<rect x="311.05" y="457.37" width="5.45" height="11.23" fill="url(#h)"/>
<path d="M311.25,468.6V456.77" class="bl"/>
<path d="M311.05,457.37H316.5V468.6" class="bh"/>
<path d="M313.93,457.37V456.67M312.78,457.07H315.07" class="eh"/>
<text class="xl" transform="translate(312.02,544.5) rotate(-59)" text-anchor="end">1b</text>
<rect x="322.5" y="478.3" width="5" height="57.9" fill="#fff"/>
<path d="M322.5,536.2V478.3M327.5,478.3V536.2" class="bw"/>
<rect x="322.5" y="429.83" width="5" height="38.77" fill="#fff"/>
<path d="M322.5,468.6V429.83H327.5V468.6" class="bw"/>
<path d="M325.1,429.83V427.15M323.95,427.55H326.25" class="e"/>
<rect x="328.05" y="478.3" width="5.45" height="57.9" fill="url(#h)"/>
<path d="M328.25,536.2V478.3" class="bl"/>
<path d="M333.5,478.3V536.2" class="bh"/>
<rect x="328.05" y="458.73" width="5.45" height="9.87" fill="url(#h)"/>
<path d="M328.25,468.6V458.13" class="bl"/>
<path d="M328.05,458.73H333.5V468.6" class="bh"/>
<path d="M331.05,458.73V456.34M329.9,456.74H332.2" class="eh"/>
<text class="xl" transform="translate(329.15,544.5) rotate(-59)" text-anchor="end">17+1b</text>
<rect x="339.5" y="524.33" width="5" height="11.87" fill="#fff"/>
<path d="M339.5,536.2V524.33H344.5V536.2" class="bw"/>
<path d="M342.23,524.33V523.64M341.08,524.04H343.38" class="e"/>
<rect x="345.05" y="533.19" width="5.45" height="3.01" fill="url(#h)"/>
<path d="M345.25,536.2V532.59" class="bl"/>
<path d="M345.05,533.19H350.5V536.2" class="bh"/>
<text class="xl" transform="translate(346.27,544.5) rotate(-59)" text-anchor="end">22</text>
<rect x="356.5" y="523.35" width="5" height="12.85" fill="#fff"/>
<path d="M356.5,536.2V523.35H361.5V536.2" class="bw"/>
<path d="M359.35,523.35V520.45M358.2,520.85H360.5" class="e"/>
<rect x="362.05" y="531.16" width="5.45" height="5.04" fill="url(#h)"/>
<path d="M362.25,536.2V530.56" class="bl"/>
<path d="M362.05,531.16H367.5V536.2" class="bh"/>
<path d="M365.3,531.16V530.47M364.15,530.87H366.45" class="eh"/>
<text class="xl" transform="translate(363.4,544.5) rotate(-59)" text-anchor="end">17+22</text>
<rect x="391.5" y="531.45" width="5" height="4.75" fill="#fff"/>
<path d="M391.5,536.2V531.45H396.5V536.2" class="bw"/>
<path d="M393.6,531.45V530.87M392.45,531.27H394.75" class="e"/>
<rect x="397.05" y="528.56" width="5.45" height="7.64" fill="url(#h)"/>
<path d="M397.25,536.2V527.96" class="bl"/>
<path d="M397.05,528.56H402.5V536.2" class="bh"/>
<path d="M399.55,528.56V527.75M398.4,528.15H400.7" class="eh"/>
<text class="xl" transform="translate(397.65,544.5) rotate(-59)" text-anchor="end">17</text>
<rect x="408.5" y="478.3" width="5" height="57.9" fill="#fff"/>
<path d="M408.5,536.2V478.3M413.5,478.3V536.2" class="bw"/>
<rect x="408.5" y="449.86" width="5" height="18.74" fill="#fff"/>
<path d="M408.5,468.6V449.86H413.5V468.6" class="bw"/>
<path d="M410.73,449.86V444.28M409.58,444.68H411.88" class="e"/>
<rect x="414.05" y="478.3" width="5.45" height="57.9" fill="url(#h)"/>
<path d="M414.25,536.2V478.3" class="bl"/>
<path d="M419.5,478.3V536.2" class="bh"/>
<rect x="414.05" y="459.43" width="5.45" height="9.17" fill="url(#h)"/>
<path d="M414.25,468.6V458.83" class="bl"/>
<path d="M414.05,459.43H419.5V468.6" class="bh"/>
<path d="M416.68,459.43V456.05M415.53,456.45H417.82" class="eh"/>
<text class="xl" transform="translate(414.77,544.5) rotate(-59)" text-anchor="end">1b</text>
<rect x="425.5" y="478.3" width="5" height="57.9" fill="#fff"/>
<path d="M425.5,536.2V478.3M430.5,478.3V536.2" class="bw"/>
<rect x="425.5" y="454.4" width="5" height="14.2" fill="#fff"/>
<path d="M425.5,468.6V454.4H430.5V468.6" class="bw"/>
<path d="M427.85,454.4V449.11M426.7,449.51H429" class="e"/>
<rect x="431.05" y="478.3" width="5.45" height="57.9" fill="url(#h)"/>
<path d="M431.25,536.2V478.3" class="bl"/>
<path d="M436.5,478.3V536.2" class="bh"/>
<rect x="431.05" y="457.7" width="5.45" height="10.9" fill="url(#h)"/>
<path d="M431.25,468.6V457.1" class="bl"/>
<path d="M431.05,457.7H436.5V468.6" class="bh"/>
<path d="M433.8,457.7V456.34M432.65,456.74H434.95" class="eh"/>
<text class="xl" transform="translate(431.9,544.5) rotate(-59)" text-anchor="end">17+1b</text>
<rect x="442.5" y="531.86" width="5" height="4.34" fill="#fff"/>
<path d="M442.5,536.2V531.86H447.5V536.2" class="bw"/>
<path d="M444.98,531.86V531.45M443.83,531.85H446.12" class="e"/>
<rect x="448.05" y="530.87" width="5.45" height="5.33" fill="url(#h)"/>
<path d="M448.25,536.2V530.27" class="bl"/>
<path d="M448.05,530.87H453.5V536.2" class="bh"/>
<path d="M450.93,530.87V530.47M449.78,530.87H452.07" class="eh"/>
<text class="xl" transform="translate(449.02,544.5) rotate(-59)" text-anchor="end">22</text>
<rect x="459.5" y="528.09" width="5" height="8.11" fill="#fff"/>
<path d="M459.5,536.2V528.09H464.5V536.2" class="bw"/>
<path d="M462.1,528.09V523.93M460.95,524.33H463.25" class="e"/>
<rect x="465.05" y="528.56" width="5.45" height="7.64" fill="url(#h)"/>
<path d="M465.25,536.2V527.96" class="bl"/>
<path d="M465.05,528.56H470.5V536.2" class="bh"/>
<path d="M468.05,528.56V527.75M466.9,528.15H469.2" class="eh"/>
<text class="xl" transform="translate(466.15,544.5) rotate(-59)" text-anchor="end">17+22</text>
<path d="M284.05,536.2H473.85" class="ax"/>
<path d="M284.85,537V478.3" class="ax"/>
<path d="M284.85,468.6V410" class="ax"/>
<path d="M281.35,478.3H288.05M281.35,468.6H288.05" class="tk"/>
<path d="M281.35,536.2H284.85" class="tk"/>
<text class="yt" transform="translate(278.85,538.55) scale(0.87,1)" text-anchor="end">0</text>
<path d="M281.35,507.25H284.85" class="tk"/>
<text class="yt" transform="translate(278.85,509.6) scale(0.87,1)" text-anchor="end">5</text>
<path d="M281.35,478.3H284.85" class="tk"/>
<text class="yt" transform="translate(278.85,480.65) scale(0.87,1)" text-anchor="end">10</text>
<path d="M281.35,468.6H284.85" class="tk"/>
<path d="M281.35,452.09H284.85" class="tk"/>
<text class="yt" transform="translate(278.85,454.44) scale(0.87,1)" text-anchor="end">50</text>
<path d="M281.35,431.44H284.85" class="tk"/>
<text class="yt" transform="translate(278.85,433.79) scale(0.87,1)" text-anchor="end">100</text>
<path d="M281.35,410.8H284.85" class="tk"/>
<text class="yt" transform="translate(278.85,413.15) scale(0.87,1)" text-anchor="end">150</text>
</g>
<g>
<text class="yl" transform="translate(498.7,472.3) rotate(-90) scale(1.08,1)" text-anchor="middle">Fold increase/ control</text>
<text class="t" transform="translate(626.7,394.8) scale(1.003,1)" text-anchor="middle">CXCL-8</text>
<text class="n" transform="translate(573.4,407.1) scale(0.95,1)" text-anchor="middle">N</text>
<text class="n" transform="translate(671.85,407.1) scale(0.88,1)" text-anchor="middle" style="letter-spacing:1.3px">AA</text>
<rect x="535.5" y="520.87" width="5" height="15.33" fill="#fff"/>
<path d="M535.5,536.2V520.87H540.5V536.2" class="bw"/>
<path d="M538.4,520.87V515.76M537.25,516.16H539.55" class="e"/>
<rect x="541.05" y="529.56" width="5.45" height="6.64" fill="url(#h)"/>
<path d="M541.25,536.2V528.96" class="bl"/>
<path d="M541.05,529.56H546.5V536.2" class="bh"/>
<path d="M544.35,529.56V525.47M543.2,525.87H545.5" class="eh"/>
<text class="xl" transform="translate(542.45,544.5) rotate(-59)" text-anchor="end">17</text>
<rect x="552.5" y="485.1" width="5" height="51.1" fill="#fff"/>
<path d="M552.5,536.2V485.1M557.5,485.1V536.2" class="bw"/>
<rect x="552.5" y="453.97" width="5" height="21.33" fill="#fff"/>
<path d="M552.5,475.3V453.97H557.5V475.3" class="bw"/>
<path d="M555.52,453.97V450.72M554.38,451.12H556.67" class="e"/>
<rect x="558.05" y="485.1" width="5.45" height="51.1" fill="url(#h)"/>
<path d="M558.25,536.2V485.1" class="bl"/>
<path d="M563.5,485.1V536.2" class="bh"/>
<rect x="558.05" y="454.62" width="5.45" height="20.68" fill="url(#h)"/>
<path d="M558.25,475.3V454.02" class="bl"/>
<path d="M558.05,454.62H563.5V475.3" class="bh"/>
<path d="M561.48,454.62V451.37M560.33,451.77H562.62" class="eh"/>
<text class="xl" transform="translate(559.58,544.5) rotate(-59)" text-anchor="end">1b</text>
<rect x="570.5" y="485.1" width="5" height="51.1" fill="#fff"/>
<path d="M570.5,536.2V485.1M575.5,485.1V536.2" class="bw"/>
<rect x="570.5" y="453.06" width="5" height="22.24" fill="#fff"/>
<path d="M570.5,475.3V453.06H575.5V475.3" class="bw"/>
<path d="M572.65,453.06V450.98M571.5,451.38H573.8" class="e"/>
<rect x="576.05" y="485.1" width="5.45" height="51.1" fill="url(#h)"/>
<path d="M576.25,536.2V485.1" class="bl"/>
<path d="M581.5,485.1V536.2" class="bh"/>
<rect x="576.05" y="460.47" width="5.45" height="14.83" fill="url(#h)"/>
<path d="M576.25,475.3V459.87" class="bl"/>
<path d="M576.05,460.47H581.5V475.3" class="bh"/>
<path d="M578.6,460.47V454.36M577.45,454.76H579.75" class="eh"/>
<text class="xl" transform="translate(576.7,544.5) rotate(-59)" text-anchor="end">17+1b</text>
<rect x="587.5" y="523.43" width="5" height="12.77" fill="#fff"/>
<path d="M587.5,536.2V523.43H592.5V536.2" class="bw"/>
<path d="M589.77,523.43V521.89M588.62,522.29H590.92" class="e"/>
<rect x="593.05" y="530.58" width="5.45" height="5.62" fill="url(#h)"/>
<path d="M593.25,536.2V529.98" class="bl"/>
<path d="M593.05,530.58H598.5V536.2" class="bh"/>
<path d="M595.73,530.58V529.56M594.58,529.96H596.88" class="eh"/>
<text class="xl" transform="translate(593.83,544.5) rotate(-59)" text-anchor="end">22</text>
<rect x="604.5" y="518.83" width="5" height="17.37" fill="#fff"/>
<path d="M604.5,536.2V518.83H609.5V536.2" class="bw"/>
<path d="M606.9,518.83V512.69M605.75,513.09H608.05" class="e"/>
<rect x="610.05" y="529.05" width="5.45" height="7.15" fill="url(#h)"/>
<path d="M610.25,536.2V528.45" class="bl"/>
<path d="M610.05,529.05H615.5V536.2" class="bh"/>
<path d="M612.85,529.05V528.02M611.7,528.42H614" class="eh"/>
<text class="xl" transform="translate(610.95,544.5) rotate(-59)" text-anchor="end">17+22</text>
<rect x="638.5" y="526.49" width="5" height="9.71" fill="#fff"/>
<path d="M638.5,536.2V526.49H643.5V536.2" class="bw"/>
<path d="M641.15,526.49V525.98M640,526.38H642.3" class="e"/>
<rect x="644.05" y="523.43" width="5.45" height="12.77" fill="url(#h)"/>
<path d="M644.25,536.2V522.83" class="bl"/>
<path d="M644.05,523.43H649.5V536.2" class="bh"/>
<path d="M647.1,523.43V521.38M645.95,521.78H648.25" class="eh"/>
<text class="xl" transform="translate(645.2,544.5) rotate(-59)" text-anchor="end">17</text>
<rect x="655.5" y="485.1" width="5" height="51.1" fill="#fff"/>
<path d="M655.5,536.2V485.1M660.5,485.1V536.2" class="bw"/>
<rect x="655.5" y="464.77" width="5" height="10.53" fill="#fff"/>
<path d="M655.5,475.3V464.77H660.5V475.3" class="bw"/>
<path d="M658.27,464.77V460.47M657.12,460.87H659.42" class="e"/>
<rect x="661.05" y="485.1" width="5.45" height="51.1" fill="url(#h)"/>
<path d="M661.25,536.2V485.1" class="bl"/>
<path d="M666.5,485.1V536.2" class="bh"/>
<rect x="661.05" y="418.2" width="5.45" height="57.1" fill="url(#h)"/>
<path d="M661.25,475.3V417.6" class="bl"/>
<path d="M661.05,418.2H666.5V475.3" class="bh"/>
<path d="M664.23,418.2V411.7M663.08,412.1H665.38" class="eh"/>
<text class="xl" transform="translate(662.33,544.5) rotate(-59)" text-anchor="end">1b</text>
<rect x="672.5" y="485.1" width="5" height="51.1" fill="#fff"/>
<path d="M672.5,536.2V485.1M677.5,485.1V536.2" class="bw"/>
<rect x="672.5" y="468.15" width="5" height="7.15" fill="#fff"/>
<path d="M672.5,475.3V468.15H677.5V475.3" class="bw"/>
<path d="M675.4,468.15V466.07M674.25,466.47H676.55" class="e"/>
<rect x="678.05" y="485.1" width="5.45" height="51.1" fill="url(#h)"/>
<path d="M678.25,536.2V485.1" class="bl"/>
<path d="M683.5,485.1V536.2" class="bh"/>
<rect x="678.05" y="422.37" width="5.45" height="52.93" fill="url(#h)"/>
<path d="M678.25,475.3V421.77" class="bl"/>
<path d="M678.05,422.37H683.5V475.3" class="bh"/>
<path d="M681.35,422.37V412.35M680.2,412.75H682.5" class="eh"/>
<text class="xl" transform="translate(679.45,544.5) rotate(-59)" text-anchor="end">17+1b</text>
<rect x="689.5" y="527" width="5" height="9.2" fill="#fff"/>
<path d="M689.5,536.2V527H694.5V536.2" class="bw"/>
<path d="M692.52,527V526.49M691.38,526.89H693.67" class="e"/>
<rect x="695.05" y="531.86" width="5.45" height="4.34" fill="url(#h)"/>
<path d="M695.25,536.2V531.26" class="bl"/>
<path d="M695.05,531.86H700.5V536.2" class="bh"/>
<path d="M698.48,531.86V531.09M697.33,531.49H699.62" class="eh"/>
<text class="xl" transform="translate(696.58,544.5) rotate(-59)" text-anchor="end">22</text>
<rect x="707.5" y="522.4" width="5" height="13.8" fill="#fff"/>
<path d="M707.5,536.2V522.4H712.5V536.2" class="bw"/>
<path d="M709.65,522.4V519.34M708.5,519.74H710.8" class="e"/>
<rect x="713.05" y="526.49" width="5.45" height="9.71" fill="url(#h)"/>
<path d="M713.25,536.2V525.89" class="bl"/>
<path d="M713.05,526.49H718.5V536.2" class="bh"/>
<path d="M715.6,526.49V524.96M714.45,525.36H716.75" class="eh"/>
<text class="xl" transform="translate(713.7,544.5) rotate(-59)" text-anchor="end">17+22</text>
<path d="M532.15,536.2H721.95" class="ax"/>
<path d="M532.95,537V485.1" class="ax"/>
<path d="M532.95,475.3V409.6" class="ax"/>
<path d="M529.45,485.1H536.15M529.45,475.3H536.15" class="tk"/>
<path d="M529.45,536.2H532.95" class="tk"/>
<text class="yt" transform="translate(526.95,538.55) scale(0.87,1)" text-anchor="end">0</text>
<path d="M529.45,510.65H532.95" class="tk"/>
<text class="yt" transform="translate(526.95,513) scale(0.87,1)" text-anchor="end">5</text>
<path d="M529.45,485.1H532.95" class="tk"/>
<text class="yt" transform="translate(526.95,487.45) scale(0.87,1)" text-anchor="end">10</text>
<path d="M529.45,475.3H532.95" class="tk"/>
<path d="M529.45,462.42H532.95" class="tk"/>
<text class="yt" transform="translate(526.95,464.77) scale(0.87,1)" text-anchor="end">1000</text>
<path d="M529.45,449.42H532.95" class="tk"/>
<text class="yt" transform="translate(526.95,451.77) scale(0.87,1)" text-anchor="end">2000</text>
<path d="M529.45,436.41H532.95" class="tk"/>
<text class="yt" transform="translate(526.95,438.76) scale(0.87,1)" text-anchor="end">3000</text>
<path d="M529.45,423.41H532.95" class="tk"/>
<text class="yt" transform="translate(526.95,425.76) scale(0.87,1)" text-anchor="end">4000</text>
<path d="M529.45,410.4H532.95" class="tk"/>
<text class="yt" transform="translate(526.95,412.75) scale(0.87,1)" text-anchor="end">5000</text>
<rect x="723.75" y="416.05" width="13.4" height="6.4" fill="url(#h)" stroke="#000" stroke-width="1.3"/>
<rect x="723.75" y="430.45" width="13.4" height="6.4" fill="#fff" stroke="#000" stroke-width="1.3"/>
<text class="lg" transform="translate(744.3,422.6) scale(0.93,1)" text-anchor="start">6h</text>
<text class="lg" transform="translate(744.3,437) scale(0.93,1)" text-anchor="start">2h</text>
</g>
</svg>
</body></html>
